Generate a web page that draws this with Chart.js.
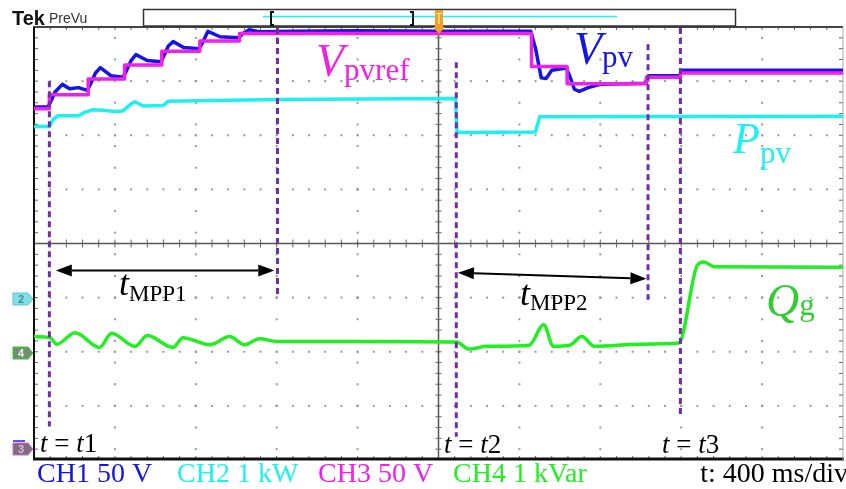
<!DOCTYPE html>
<html>
<head>
<meta charset="utf-8">
<script src="https://cdn.jsdelivr.net/npm/chart.js@4.4.1/dist/chart.umd.min.js"></script>
<style>
  html, body { margin: 0; padding: 0; background: #fff; }
  #wrap { position: relative; width: 846px; height: 489px; }
</style>
</head>
<body>
<div id="wrap"><canvas id="scope"></canvas></div>
<script>
// x: time in divisions (400 ms/div), y: vertical divisions
// CH3 Vpvref (stepped reference)
const ch3Time = [0, 0.19, 0.67, 1.12, 1.58, 2.05, 2.54, 6.15, 6.59, 7.57, 7.99, 10];
const ch3Div  = [2.49, 2.75, 3.04, 3.3, 3.55, 3.74, 3.88, 3.27, 2.95, 3.07, 3.15, 3.15];

// CH1 Vpv
const ch1Time = [0, 0.17, 0.2, 0.26, 0.35, 0.44, 0.55, 0.66, 0.7, 0.76, 0.82, 0.95, 1.1, 1.14, 1.2, 1.26, 1.4, 1.57,
  1.6, 1.66, 1.72, 1.85, 2.04, 2.08, 2.15, 2.3, 2.53, 2.58, 2.66, 2.8, 3.2, 4.0, 5.0, 6.14, 6.2, 6.27, 6.33, 6.4,
  6.58, 6.62, 6.68, 6.74, 6.85, 7.0, 7.55, 7.6, 7.98, 8.02, 10];
const ch1Div  = [2.52, 2.52, 2.6, 2.8, 2.94, 2.86, 2.88, 2.83, 2.95, 3.15, 3.25, 3.1, 3.07, 3.18, 3.38, 3.49, 3.38, 3.36,
  3.45, 3.65, 3.73, 3.62, 3.6, 3.7, 3.92, 3.82, 3.8, 3.88, 3.95, 3.91, 3.92, 3.93, 3.92, 3.92, 3.6, 3.06, 3.05, 3.2,
  3.24, 3.1, 2.85, 2.81, 2.88, 2.94, 2.96, 3.1, 3.1, 3.2, 3.2];

// CH2 Ppv
const ch2Time = [0, 0.19, 0.24, 0.3, 0.55, 0.62, 0.72, 0.85, 1.0, 1.1, 1.2, 1.25, 1.35, 1.6, 1.66, 2.2, 3.0, 4.0,
  5.21, 5.23, 6.2, 6.25, 10];
const ch2Div  = [2.16, 2.16, 2.3, 2.36, 2.36, 2.42, 2.47, 2.46, 2.44, 2.45, 2.58, 2.62, 2.54, 2.55, 2.63, 2.64, 2.66, 2.67,
  2.68, 2.05, 2.06, 2.34, 2.35];

// CH4 Qg
const ch4Time = [0, 0.2, 0.28, 0.51, 0.81, 0.96, 1.25, 1.4, 1.72, 1.84, 2.17, 2.42, 2.6, 2.79, 3.0, 4.0, 5.22, 5.38,
  5.6, 6.12, 6.3, 6.42, 6.62, 6.77, 6.93, 7.5, 7.97, 8.2, 8.28, 8.41, 10];
const ch4Div  = [-1.72, -1.74, -1.86, -1.65, -1.92, -1.66, -1.9, -1.7, -1.92, -1.74, -1.87, -1.72, -1.87, -1.76, -1.81,
  -1.81, -1.82, -1.95, -1.9, -1.88, -1.5, -1.9, -1.88, -1.72, -1.9, -1.86, -1.84, -0.4, -0.34, -0.43, -0.44];

// event markers (dashed) and MPP arrows
const markTime   = [0.19, 3.01, 5.22, 7.59, 7.99];
const markTop    = [3.0, 3.98, 3.35, 3.68, 3.98];
const markBottom = [-3.38, -0.98, -3.57, -1.04, -3.22];
const arrowFrom  = [[0.27, -0.5], [5.24, -0.54]];
const arrowTo    = [[2.97, -0.5], [7.57, -0.65]];

const legendText = ["CH1 50 V", "CH2 1 kW", "CH3 50 V", "CH4 1 kVar"];
const legendColor = ["#1414e6", "#1ef0f0", "#f020e6", "#22ee22"];
const timebaseText = "t: 400 ms/div";

const pts = (t, v) => t.map((x, i) => ({x: x, y: v[i]}));
const SERIF = '"Liberation Serif", "Times New Roman", serif';

// graticule: dotted grid, centre crosshair, framed border
const graticule = {
  id: 'graticule',
  beforeDatasetsDraw(chart) {
    const {ctx, chartArea: a, scales: {x, y}} = chart;
    ctx.save();
    ctx.fillStyle = '#9a9a9a';
    for (let gy = -3; gy <= 3; gy++) {
      if (gy === 0) continue;
      const py = y.getPixelForValue(gy);
      for (let k = 1; k < 50; k++) {
        ctx.fillRect(x.getPixelForValue(k * 0.2) - 1, py - 1, 2, 2);
      }
    }
    for (let gx = 1; gx <= 9; gx++) {
      if (gx === 5) continue;
      const px = x.getPixelForValue(gx);
      for (let k = -19; k <= 19; k += 2) {
        ctx.fillRect(px - 1, y.getPixelForValue(k * 0.2) - 1, 2, 2);
      }
      for (let gy = -3; gy <= 3; gy++) ctx.fillRect(px - 1, y.getPixelForValue(gy) - 1, 2, 2);
    }

    // centre crosshair with ticks
    const cx = x.getPixelForValue(5), cy = y.getPixelForValue(0);
    ctx.strokeStyle = '#555';
    ctx.lineWidth = 1.5;
    ctx.beginPath();
    ctx.moveTo(a.left, cy); ctx.lineTo(a.right, cy);
    ctx.moveTo(cx, a.top); ctx.lineTo(cx, a.bottom);
    ctx.stroke();
    ctx.lineWidth = 1;
    ctx.strokeStyle = '#666';
    ctx.beginPath();
    for (let k = 1; k < 50; k++) {
      const px = x.getPixelForValue(k * 0.2);
      ctx.moveTo(px, cy - 4); ctx.lineTo(px, cy + 4);
      ctx.moveTo(px, a.top); ctx.lineTo(px, a.top + 3);
      ctx.moveTo(px, a.bottom); ctx.lineTo(px, a.bottom - 4);
    }
    for (let k = -19; k <= 19; k++) {
      const py = y.getPixelForValue(k * 0.2);
      ctx.moveTo(cx - 3, py); ctx.lineTo(cx + 3, py);
      ctx.moveTo(a.left, py); ctx.lineTo(a.left + 4, py);
      ctx.moveTo(a.right, py); ctx.lineTo(a.right - 4, py);
    }
    ctx.stroke();

    // frame
    ctx.strokeStyle = '#444';
    ctx.lineWidth = 2;
    ctx.beginPath(); ctx.moveTo(a.left - 1, a.top); ctx.lineTo(a.right, a.top); ctx.stroke();
    ctx.strokeStyle = '#111';
    ctx.beginPath(); ctx.moveTo(a.left, a.top); ctx.lineTo(a.left, a.bottom); ctx.stroke();
    ctx.lineWidth = 3;
    ctx.beginPath(); ctx.moveTo(a.left - 1, a.bottom - 1); ctx.lineTo(a.right + 1, a.bottom - 1); ctx.stroke();
    ctx.strokeStyle = '#aaa';
    ctx.lineWidth = 1;
    ctx.beginPath(); ctx.moveTo(a.right, a.top); ctx.lineTo(a.right, a.bottom); ctx.stroke();
    ctx.restore();
  }
};

function subLabel(ctx, main, sub, x, base, color, mainPx, subPx, subDrop) {
  ctx.fillStyle = color;
  ctx.font = 'italic ' + mainPx + 'px ' + SERIF;
  ctx.fillText(main, x, base);
  const w = ctx.measureText(main).width;
  ctx.font = subPx + 'px ' + SERIF;
  ctx.fillText(sub, x + w, base + subDrop);
}

function eventLabel(ctx, num, x, base) {
  ctx.fillStyle = '#000';
  let cx = x;
  const parts = [['t', true], [' = ', false], ['t', true], [num, false]];
  for (const [s, it] of parts) {
    ctx.font = (it ? 'italic ' : '') + '27px ' + SERIF;
    ctx.fillText(s, cx, base);
    cx += ctx.measureText(s).width;
  }
}

function channelFlag(ctx, label, y, fill, edge, textColor) {
  ctx.beginPath();
  ctx.moveTo(13, y - 6); ctx.lineTo(28, y - 6); ctx.lineTo(33, y); ctx.lineTo(28, y + 6); ctx.lineTo(13, y + 6);
  ctx.closePath();
  ctx.fillStyle = fill; ctx.fill();
  ctx.strokeStyle = edge; ctx.lineWidth = 1; ctx.stroke();
  ctx.fillStyle = textColor;
  ctx.font = 'bold 11px "Liberation Sans", Arial, sans-serif';
  ctx.textAlign = 'center';
  ctx.fillText(label, 21, y + 4);
  ctx.textAlign = 'left';
}

const annotations = {
  id: 'annotations',
  afterDatasetsDraw(chart) {
    const {ctx, scales: {x, y}} = chart;
    ctx.save();
    // dashed event markers
    ctx.strokeStyle = '#7030a0';
    ctx.lineWidth = 3;
    ctx.setLineDash([6, 4]);
    markTime.forEach((t, i) => {
      const px = x.getPixelForValue(t);
      ctx.beginPath();
      ctx.moveTo(px, y.getPixelForValue(markTop[i]));
      ctx.lineTo(px, y.getPixelForValue(markBottom[i]));
      ctx.stroke();
    });
    ctx.setLineDash([]);

    // double-headed arrows for tMPP
    ctx.strokeStyle = '#000';
    ctx.fillStyle = '#000';
    ctx.lineWidth = 2;
    arrowFrom.forEach((p, i) => {
      const x0 = x.getPixelForValue(p[0]), y0 = y.getPixelForValue(p[1]);
      const x1 = x.getPixelForValue(arrowTo[i][0]), y1 = y.getPixelForValue(arrowTo[i][1]);
      const ang = Math.atan2(y1 - y0, x1 - x0);
      const L = 16, H = 6;
      ctx.beginPath();
      ctx.moveTo(x0 + L * Math.cos(ang), y0 + L * Math.sin(ang));
      ctx.lineTo(x1 - L * Math.cos(ang), y1 - L * Math.sin(ang));
      ctx.stroke();
      for (const [hx, hy, dir] of [[x0, y0, 1], [x1, y1, -1]]) {
        const bx = hx + dir * L * Math.cos(ang), by = hy + dir * L * Math.sin(ang);
        ctx.beginPath();
        ctx.moveTo(hx, hy);
        ctx.lineTo(bx - H * Math.sin(ang), by + H * Math.cos(ang));
        ctx.lineTo(bx + H * Math.sin(ang), by - H * Math.cos(ang));
        ctx.closePath();
        ctx.fill();
      }
    });

    // trace names
    subLabel(ctx, 'V', 'pvref', 316, 76, '#f020e6', 46, 31, 4);
    subLabel(ctx, 'V', 'pv', 574, 64, '#1414e6', 46, 31, 3);
    subLabel(ctx, 'P', 'pv', 733, 153, '#1ef0f0', 44, 31, 10);
    subLabel(ctx, 'Q', 'g', 766, 316, '#33cc33', 46, 31, -1);
    subLabel(ctx, 't', 'MPP1', 119, 295, '#000', 36, 23, 6);
    subLabel(ctx, 't', 'MPP2', 520, 305, '#000', 36, 23, 5);

    eventLabel(ctx, '1', 40, 452);
    eventLabel(ctx, '2', 444, 453);
    eventLabel(ctx, '3', 662, 453);
    ctx.restore();
  },
  afterDraw(chart) {
    const {ctx} = chart;
    ctx.save();
    // header
    ctx.fillStyle = '#111';
    ctx.font = 'bold 20px "Liberation Sans", Arial, sans-serif';
    ctx.fillText('Tek', 12, 25);
    ctx.fillStyle = '#333';
    ctx.font = '14px "Liberation Sans", Arial, sans-serif';
    ctx.fillText('PreVu', 49, 23);

    // record-length bar
    ctx.strokeStyle = '#333';
    ctx.lineWidth = 1.5;
    ctx.strokeRect(143.5, 9.5, 592, 16.5);
    ctx.strokeStyle = '#1ef0f0';
    ctx.lineWidth = 1.5;
    ctx.beginPath(); ctx.moveTo(263, 16.5); ctx.lineTo(617, 16.5); ctx.stroke();
    ctx.strokeStyle = '#111';
    ctx.lineWidth = 2;
    ctx.beginPath();
    ctx.moveTo(274, 12); ctx.lineTo(271, 12); ctx.lineTo(271, 25); ctx.lineTo(274, 25);
    ctx.moveTo(410, 12); ctx.lineTo(413, 12); ctx.lineTo(413, 25); ctx.lineTo(410, 25);
    ctx.stroke();

    // trigger position marker
    ctx.fillStyle = '#f2a11f';
    ctx.beginPath();
    ctx.moveTo(435, 10); ctx.lineTo(443, 10); ctx.lineTo(443, 27); ctx.lineTo(435, 27);
    ctx.closePath(); ctx.fill();
    ctx.beginPath();
    ctx.moveTo(433, 27); ctx.lineTo(445, 27); ctx.lineTo(439, 34);
    ctx.closePath(); ctx.fill();
    ctx.strokeStyle = '#fff';
    ctx.lineWidth = 1;
    ctx.beginPath();
    ctx.moveTo(436.5, 13.5); ctx.lineTo(441.5, 13.5);
    ctx.moveTo(439, 13.5); ctx.lineTo(439, 24);
    ctx.stroke();

    // channel ground flags
    channelFlag(ctx, '2', 299, '#7fe0e6', '#5cc8d0', '#4a8a90');
    channelFlag(ctx, '4', 353, '#6f8f6f', '#33cc33', '#e8f8e8');
    ctx.strokeStyle = '#2020e0';
    ctx.lineWidth = 1.5;
    ctx.beginPath(); ctx.moveTo(13, 441); ctx.lineTo(25, 441); ctx.stroke();
    channelFlag(ctx, '3', 449, '#7a6f7a', '#e060e0', '#f0b0f0');

    // channel scales and timebase
    ctx.font = '28px ' + SERIF;
    const legendX = [37, 177, 318, 453];
    legendText.forEach((s, i) => {
      ctx.fillStyle = legendColor[i];
      ctx.fillText(s, legendX[i], 482);
    });
    ctx.fillStyle = '#000';
    ctx.textAlign = 'right';
    ctx.fillText(timebaseText, 848, 482);
    ctx.restore();
  }
};

new Chart(document.getElementById('scope'), {
  type: 'line',
  data: {
    datasets: [
      {label: 'CH3', data: pts(ch3Time, ch3Div), borderColor: '#f020e6', stepped: true},
      {label: 'CH1', data: pts(ch1Time, ch1Div), borderColor: '#1414e6'},
      {label: 'CH2', data: pts(ch2Time, ch2Div), borderColor: '#1ef0f0'},
      {label: 'CH4', data: pts(ch4Time, ch4Div), borderColor: '#22ee22', cubicInterpolationMode: 'monotone'}
    ]
  },
  options: {
    responsive: true,
    maintainAspectRatio: false,
    animation: false,
    layout: {padding: {left: 34, top: 27, right: 3, bottom: 29}},
    elements: {
      point: {radius: 0},
      line: {borderWidth: 3.5, tension: 0, borderJoinStyle: 'round'}
    },
    plugins: {legend: {display: false}, tooltip: {enabled: false}},
    scales: {
      x: {type: 'linear', min: 0, max: 10, display: false},
      y: {type: 'linear', min: -4, max: 4, display: false}
    }
  },
  plugins: [graticule, annotations]
});
</script>
</body>
</html>
